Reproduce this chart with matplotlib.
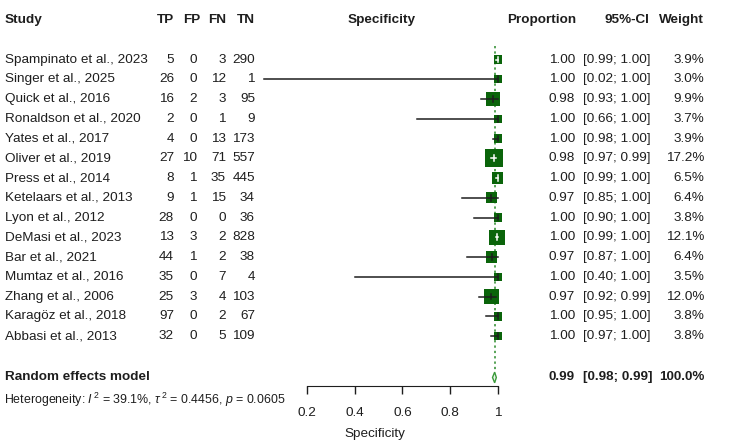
import numpy as np
import matplotlib
matplotlib.use('Agg')
from matplotlib import pyplot as plt
from matplotlib import transforms as mtrans

plt.rcParams['font.family'] = ['Liberation Sans', 'DejaVu Sans']
plt.rcParams['mathtext.fontset'] = 'custom'
plt.rcParams['mathtext.rm'] = 'Liberation Sans'
plt.rcParams['mathtext.it'] = 'Liberation Sans:italic'

studies = ['Spampinato et al., 2023', 'Singer et al., 2025', 'Quick et al., 2016',
           'Ronaldson et al., 2020', 'Yates et al., 2017', 'Oliver et al., 2019',
           'Press et al., 2014', 'Ketelaars et al., 2013', 'Lyon et al., 2012',
           'DeMasi et al., 2023', 'Bar et al., 2021', 'Mumtaz et al., 2016',
           'Zhang et al., 2006', 'Karagöz et al., 2018', 'Abbasi et al., 2013']
tp = [5, 26, 16, 2, 4, 27, 8, 9, 28, 13, 44, 35, 25, 97, 32]
fp = [0, 0, 2, 0, 0, 10, 1, 1, 0, 3, 1, 0, 3, 0, 0]
fn = [3, 12, 3, 1, 13, 71, 35, 15, 0, 2, 2, 7, 4, 2, 5]
tn = [290, 1, 95, 9, 173, 557, 445, 34, 36, 828, 38, 4, 103, 67, 109]
est = [1.000, 1.000, 0.979, 1.000, 1.000, 0.982, 0.998, 0.971, 1.000, 0.996,
       0.974, 1.000, 0.972, 1.000, 1.000]
lo = [0.99, 0.02, 0.93, 0.66, 0.98, 0.97, 0.99, 0.85, 0.90, 0.99, 0.87, 0.40, 0.92, 0.95, 0.97]
hi = [1.00, 1.00, 1.00, 1.00, 1.00, 0.99, 1.00, 1.00, 1.00, 1.00, 1.00, 1.00, 0.99, 1.00, 1.00]
weight = [3.9, 3.0, 9.9, 3.7, 3.9, 17.2, 6.5, 6.4, 3.8, 12.1, 6.4, 3.5, 12.0, 3.8, 3.8]
# pooled estimate (shown rounded as 0.99 [0.98; 0.99])
re_est, re_lo, re_hi = 0.986, 0.977, 0.993
ticks = [0.2, 0.4, 0.6, 0.8, 1]
tick_labels = ['0.2', '0.4', '0.6', '0.8', '1']

W, H = 750, 448
fig = plt.figure(figsize=(W / 100, H / 100), dpi=100)
ax = fig.add_axes([0, 0, 1, 1])

# specificity -> pixel: 0.2 at 307px, 1 at 498px
ppu = (498 - 307) / 0.8
x0 = 307 - 0.2 * ppu
ax.set_xlim(-x0 / ppu, (W - x0) / ppu)
row_h = 19.75
top = 20
ax.set_ylim((H - top) / row_h, -top / row_h)

green = '#0a640a'
ink = '#1e1e1e'
fs = 9.7
rows = np.arange(len(studies)) + 2

# x in figure pixels, y in rows
tr = mtrans.blended_transform_factory(fig.transFigure, ax.transData)


def txt(x, y, s, ha='left', bold=False, size=fs):
    ax.text(x / W, y, s, transform=tr, ha=ha, va='center', fontsize=size,
            fontweight='bold' if bold else 'normal', color=ink)


# header
txt(5, 0, 'Study', bold=True)
txt(174, 0, 'TP', ha='right', bold=True)
txt(200, 0, 'FP', ha='right', bold=True)
txt(226, 0, 'FN', ha='right', bold=True)
txt(255, 0, 'TN', ha='right', bold=True)
txt(382, 0, 'Specificity', ha='center', bold=True)
txt(576, 0, 'Proportion', ha='right', bold=True)
txt(649, 0, '95%-CI', ha='right', bold=True)
txt(704, 0, 'Weight', ha='right', bold=True)

for i, r in enumerate(rows):
    txt(5, r, studies[i])
    txt(174, r, str(tp[i]), ha='right')
    txt(197, r, str(fp[i]), ha='right')
    txt(226, r, str(fn[i]), ha='right')
    txt(255, r, str(tn[i]), ha='right')
    txt(575, r, f'{est[i]:.2f}', ha='right')
    txt(583, r, f'[{lo[i]:.2f}; {hi[i]:.2f}]')
    txt(704, r, f'{weight[i]:.1f}%', ha='right')

r_re = 18.1
txt(5, r_re, 'Random effects model', bold=True)
txt(575, r_re, '0.99', ha='right', bold=True)
txt(583, r_re, '[0.98; 0.99]', bold=True)
txt(704, r_re, '100.0%', ha='right', bold=True)
txt(4, 19.25, r'Heterogeneity: $I^{\,2}$ = 39.1%, $\tau^{\,2}$ = 0.4456, $p$ = 0.0605', size=8.9)

# reference line at pooled estimate
ax.plot([re_est, re_est], [1.3, r_re - 0.3], color='#2a8a2a', ls=(0, (1.5, 2)), lw=1.1, zorder=1)

# study squares and CIs
for i, r in enumerate(rows):
    side_px = 4.4 * np.sqrt(weight[i])
    hw = side_px / 2 / ppu
    hh = side_px / 2 / row_h
    ax.fill([est[i] - hw, est[i] + hw, est[i] + hw, est[i] - hw],
            [r - hh, r - hh, r + hh, r + hh], color=green, lw=0, zorder=2)
    inside = lo[i] >= est[i] - hw and hi[i] <= est[i] + hw
    c = 'white' if inside else ink
    ax.plot([lo[i], hi[i]], [r, r], color=c, lw=1.1, zorder=3, clip_on=False)
    ax.plot([est[i], est[i]], [r - 0.14, r + 0.14], color=c, lw=1.1, zorder=3)

# pooled diamond
dh = 0.27
ax.fill([re_lo, re_est, re_hi, re_est], [r_re, r_re - dh, r_re, r_re + dh],
        facecolor='#e8f4e8', edgecolor='#3a9a3a', lw=1, zorder=3)

# axis
for s in ['top', 'left', 'right']:
    ax.spines[s].set_visible(False)
ax.spines['bottom'].set_position(('data', 18.55))
ax.spines['bottom'].set_bounds(0.2, 1)
ax.spines['bottom'].set_color(ink)
ax.set_yticks([])
ax.set_xticks(ticks)
ax.set_xticklabels(tick_labels)
ax.tick_params(axis='x', direction='out', length=6, width=1, colors=ink,
               labelsize=fs, pad=9)
ax.set_xlabel('Specificity', fontsize=fs, color=ink, labelpad=6)
ax.patch.set_alpha(0)

fig.savefig('out.png', dpi=100, facecolor='white')
